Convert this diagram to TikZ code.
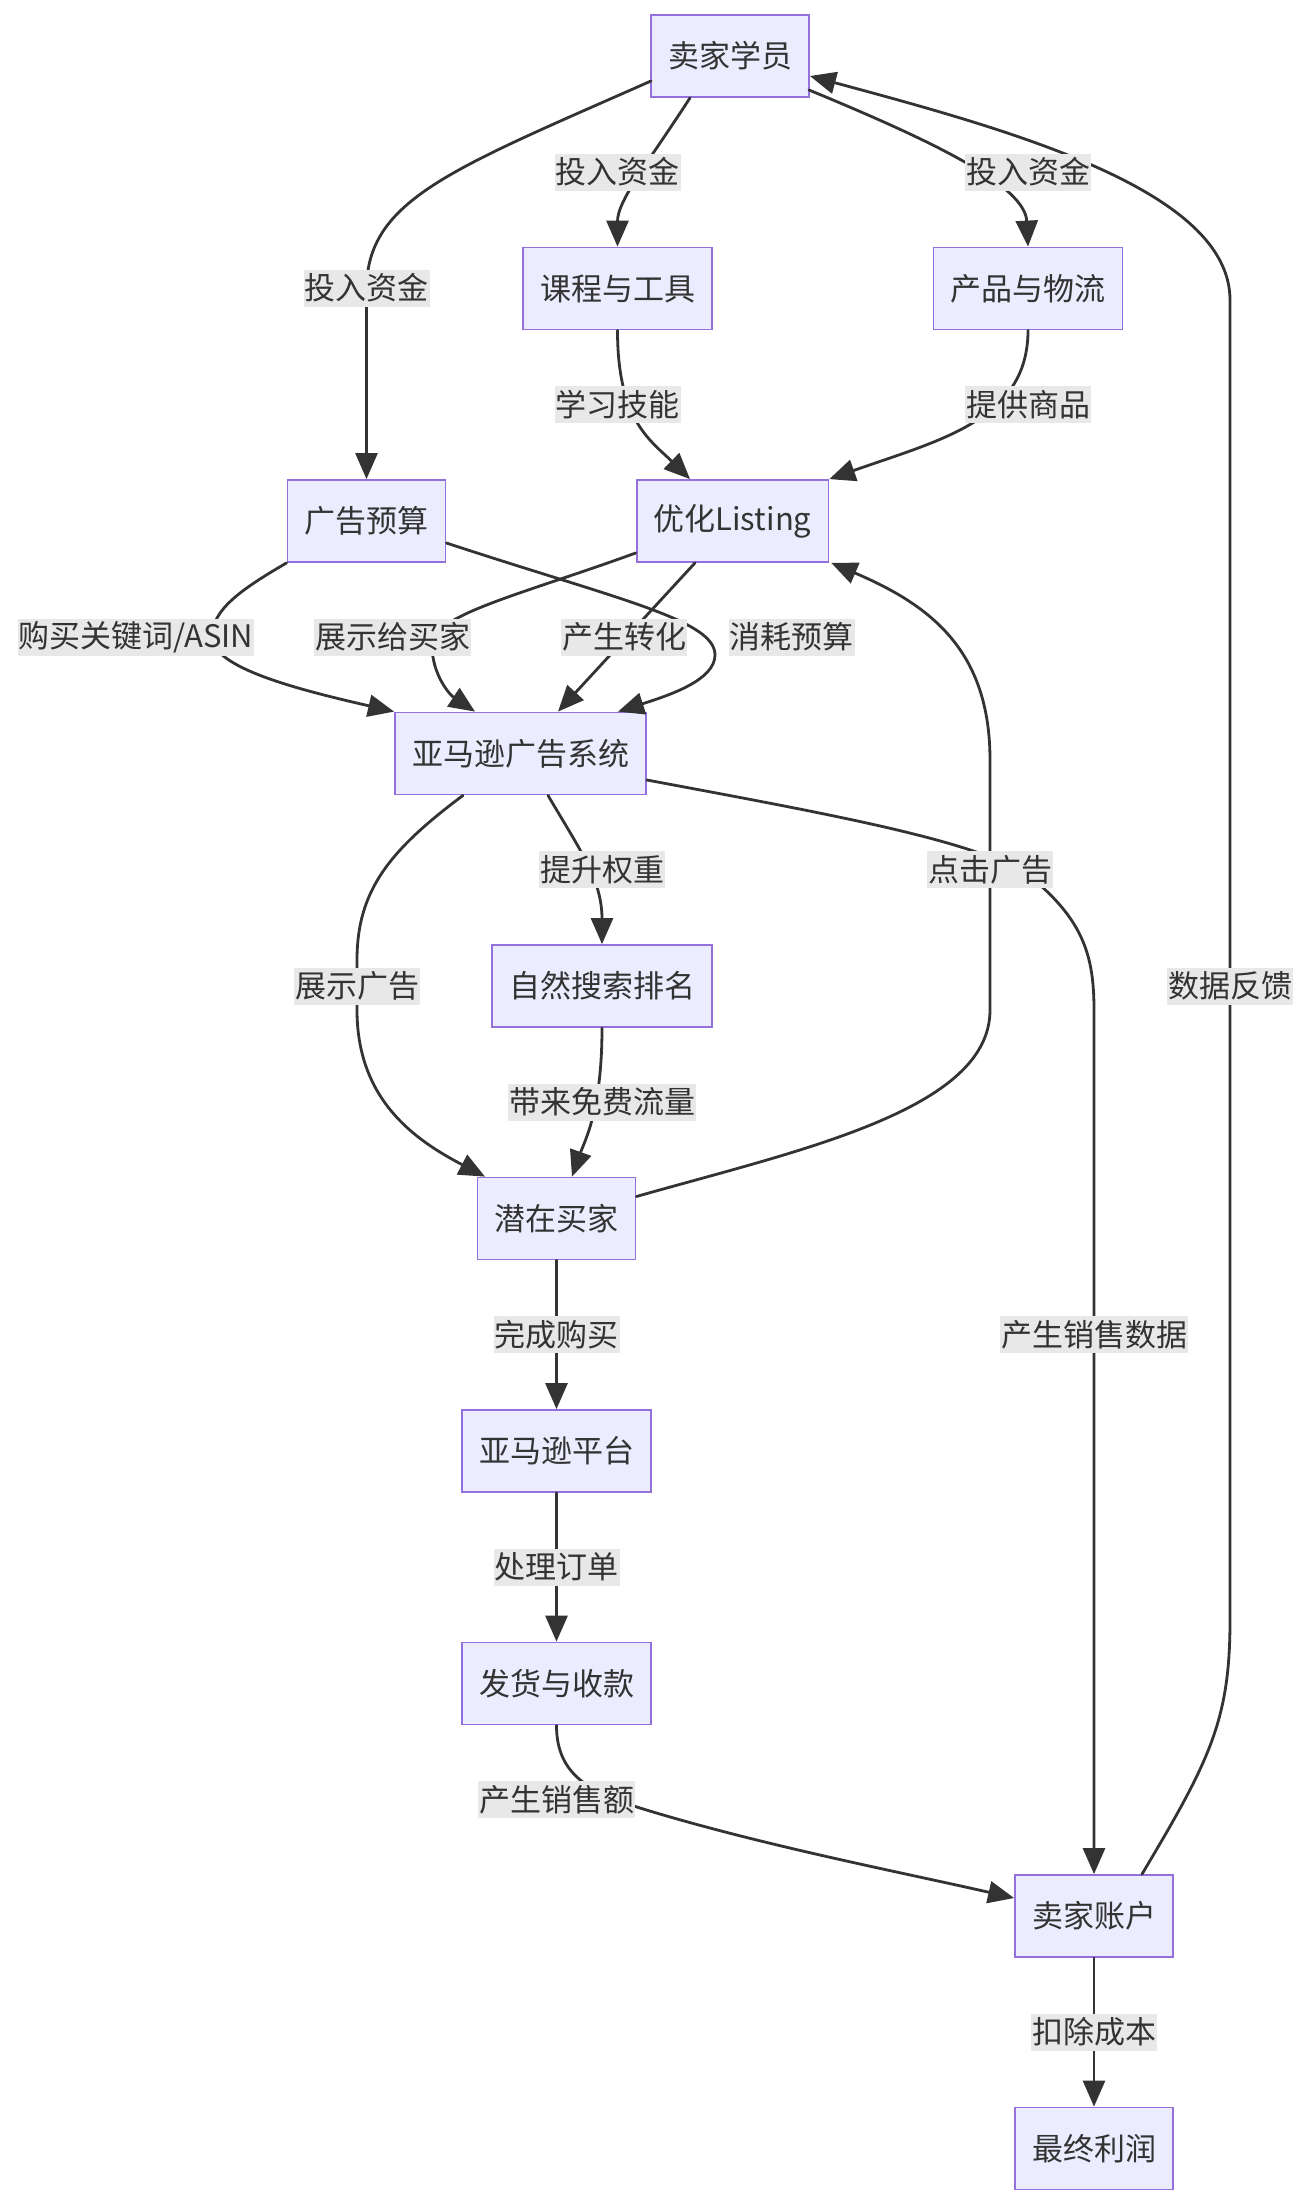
\documentclass[tikz,border=0pt]{standalone}
\usepackage{fontspec}
\setmainfont{Noto Sans CJK SC}
\usetikzlibrary{arrows.meta,calc}
\definecolor{nodefill}{HTML}{ECECFF}
\definecolor{nodeborder}{HTML}{9370DB}
\definecolor{linec}{HTML}{333333}
\definecolor{labelbg}{HTML}{E8E8E8}
\begin{document}
\begin{tikzpicture}[x=1pt,y=-1pt,
  nbox/.style={draw=nodeborder, fill=nodefill, line width=1.8pt, minimum height=82pt,
    inner xsep=17pt, inner ysep=0pt, text=linec, font=\fontsize{31}{37}\selectfont},
  elabel/.style={fill=labelbg, inner xsep=1pt, inner ysep=0pt, minimum height=37pt,
    text=linec, font=\fontsize{31}{37}\selectfont},
  conn/.style={draw=linec, line width=2.8pt, line cap=round,
    -{Triangle[length=26pt,width=22pt]}},
]
\useasboundingbox (0,0) rectangle (1312,2206);
\fill[white] (0,0) rectangle (1312,2206);

% nodes
\node[nbox] (ss) at (730,56) {卖家学员};
\node[nbox] (kc) at (617.5,288.5) {课程与工具};
\node[nbox] (cp) at (1028,288.5) {产品与物流};
\node[nbox] (gg) at (366.5,521) {广告预算};
\node[nbox] (yh) at (732.5,521) {优化Listing};
\node[nbox] (xt) at (520.5,753.5) {亚马逊广告系统};
\node[nbox] (zr) at (602,986) {自然搜索排名};
\node[nbox] (qz) at (556.5,1218.5) {潜在买家};
\node[nbox] (pt) at (556.5,1451) {亚马逊平台};
\node[nbox] (fh) at (556.5,1683.5) {发货与收款};
\node[nbox] (zh) at (1094,1916) {卖家账户};
\node[nbox] (zl) at (1094,2148.5) {最终利润};

% edges
\draw[conn] ($(ss.center)+(-79,25)$) .. controls (450,170) and (366.5,200) .. (366.5,290) -- (gg.north);
\draw[conn] ($(ss.south)+(-40,0)$) .. controls (650,160) and (617.5,200) .. (kc.north);
\draw[conn] ($(ss.center)+(79,34)$) .. controls (930,140) and (1025,185) .. (cp.north);
\draw[conn] (kc.south) .. controls (617.5,420) and (650,440) .. ($(yh.north)+(-42.5,0)$);
\draw[conn] (cp.south) .. controls (1028,420) and (940,440) .. (yh.north east);
\draw[conn] (gg.south west) .. controls (240,590) and (212,610) .. (212,637)
  .. controls (212,668) and (300,690) .. (xt.north west);
\draw[conn] ($(gg.east)+(0,22)$) .. controls (620,600) and (715,620) .. (715,655)
  .. controls (715,680) and (670,695) .. ($(xt.north)+(97.5,0)$);
\draw[conn] ($(yh.west)+(0,32)$) .. controls (520,595) and (432,615) .. (432,645)
  .. controls (432,675) and (450,695) .. ($(xt.north)+(-45.5,0)$);
\draw[conn] ($(yh.south)+(-37.5,0)$) -- ($(xt.north)+(37.5,0)$);
\draw[conn] ($(xt.south)+(27.5,0)$) .. controls (580,850) and (602,880) .. (zr.north);
\draw[conn] ($(xt.south)+(-57.5,0)$) .. controls (390,850) and (357,890) .. (357,960) -- (357,1010)
  .. controls (357,1100) and (415,1140) .. ($(qz.north)+(-71.5,0)$);
\draw[conn] ($(xt.east)+(0,26.5)$) .. controls (850,818) and (1000,845) .. (1040,885)
  .. controls (1085,925) and (1094,960) .. (1094,1010) -- (zh.north);
\draw[conn] ($(qz.east)+(0,-22)$) .. controls (800,1150) and (990,1110) .. (990,1010) -- (990,760)
  .. controls (990,650) and (930,605) .. ($(yh.south east)+(2,0)$);
\draw[conn] (zr.south) .. controls (602,1110) and (585,1140) .. ($(qz.north)+(15.5,0)$);
\draw[conn] (qz.south) -- (pt.north);
\draw[conn] (pt.south) -- (fh.north);
\draw[conn] (fh.south) .. controls (556.5,1775) and (590,1792) .. (640,1808)
  .. controls (760,1845) and (900,1872) .. ($(zh.west)+(0,-18)$);
\draw[conn] ($(zh.north)+(48,0)$) .. controls (1210,1760) and (1230,1720) .. (1230,1620) -- (1230,300)
  .. controls (1230,190) and (1010,130) .. ($(ss.east)+(0,20)$);
\draw[conn] (zh.south) -- (zl.north);

% edge labels
\node[elabel] (l1) at (366.5,288) {投入资金};
\node[elabel] (l2) at (617.5,172) {投入资金};
\node[elabel] (l3) at (1028,172) {投入资金};
\node[elabel] (l4) at (617.5,404.5) {学习技能};
\node[elabel] (l5) at (1028,404.5) {提供商品};
\node[elabel] (l6) at (136,637) {购买关键词/ASIN};
\node[elabel] (l7) at (392.5,637) {展示给买家};
\node[elabel] (l8) at (624,637) {产生转化};
\node[elabel] (l9) at (791.5,637) {消耗预算};
\node[elabel] (l10) at (602,869.5) {提升权重};
\node[elabel] (l11) at (990,869.5) {点击广告};
\node[elabel] (l12) at (357,986) {展示广告};
\node[elabel] (l13) at (1230,986) {数据反馈};
\node[elabel] (l14) at (602,1102) {带来免费流量};
\node[elabel] (l15) at (556.5,1334.5) {完成购买};
\node[elabel] (l16) at (1094,1334.5) {产生销售数据};
\node[elabel] (l17) at (556.5,1567) {处理订单};
\node[elabel] (l18) at (556.5,1799.5) {产生销售额};
\node[elabel] (l19) at (1094,2032) {扣除成本};
\end{tikzpicture}
\end{document}
